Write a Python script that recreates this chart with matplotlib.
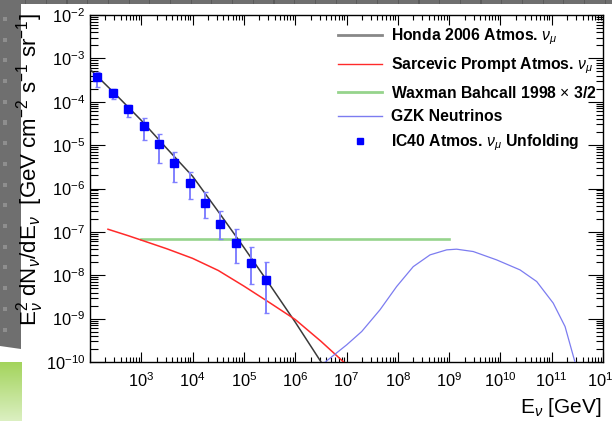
"""
IC40 atmospheric numu unfolding compared to model fluxes.
"""

import numpy as np
import matplotlib
matplotlib.use('Agg')
import matplotlib.pyplot as plt
from matplotlib.lines import Line2D
from matplotlib.patches import Polygon, Rectangle
from matplotlib.ticker import LogLocator, NullFormatter, FuncFormatter

plt.rcParams['font.family'] = ['Liberation Sans', 'DejaVu Sans']
plt.rcParams['mathtext.fontset'] = 'custom'
plt.rcParams['mathtext.rm'] = 'Liberation Sans'
plt.rcParams['mathtext.it'] = 'Liberation Sans:italic'
plt.rcParams['mathtext.bf'] = 'Liberation Sans:bold'

# IC40 unfolded spectrum (GeV, GeV cm^-2 s^-1 sr^-1)
e_data = [139, 281, 558, 1114, 2213, 4395, 8770, 17400, 34700, 69200, 137000, 274000]
flux_data = [3.67e-4, 1.62e-4, 6.8e-5, 2.7e-5, 1.07e-5, 3.9e-6, 1.37e-6, 4.7e-7,
             1.53e-7, 5.4e-8, 1.96e-8, 7.8e-9]
flux_hi = [4.87e-4, 1.94e-4, 8.4e-5, 4.17e-5, 1.78e-5, 6.86e-6, 2.45e-6, 8.5e-7,
           3.05e-7, 1.15e-7, 4.58e-8, 2.04e-8]
flux_lo = [2.23e-4, 1.14e-4, 4.4e-5, 1.32e-5, 3.95e-6, 1.40e-6, 5.66e-7, 2.05e-7,
           6.8e-8, 1.96e-8, 6.3e-9, 1.38e-9]

# Honda 2006 conventional atmospheric numu
e_honda = [1e2, 3.16e2, 1e3, 3.16e3, 1e4, 3.16e4, 1e5, 3.16e5, 1e6, 3.16e6, 3.98e6]
flux_honda = [5.62e-4, 1.48e-4, 3.72e-5, 8.32e-6, 1.91e-6, 2.95e-7, 4.37e-8, 6.17e-9,
              8.32e-10, 1.02e-10, 6.6e-11]

# Sarcevic prompt atmospheric numu
e_prompt = [224, 562, 1e3, 3.16e3, 1e4, 3.16e4, 1e5, 3.16e5, 1e6, 3.16e6, 1e7]
flux_prompt = [1.15e-7, 8.13e-8, 6.46e-8, 4.07e-8, 2.45e-8, 1.29e-8, 5.62e-9, 2.34e-9,
               9.55e-10, 3.02e-10, 8.7e-11]

# Waxman Bahcall 1998 bound x 3/2
e_wb = [1e3, 1e9]
flux_wb = [6.7e-8, 6.7e-8]

# GZK neutrinos
e_gzk = [3.16e6, 1.01e7, 1.98e7, 4.5e7, 9.5e7, 2.0e8, 4.25e8, 8.97e8, 1.4e9, 2.96e9,
         8.45e9, 2.41e10, 5.1e10, 1.07e11, 1.82e11, 2.84e11, 3.02e11]
flux_gzk = [8.3e-11, 2.49e-10, 5.05e-10, 1.6e-9, 5.5e-9, 1.58e-8, 2.95e-8, 3.85e-8,
            3.99e-8, 3.52e-8, 2.26e-8, 1.33e-8, 7.16e-9, 2.28e-9, 6.58e-10, 1.0e-10, 7.8e-11]

W, H = 612, 421
fig = plt.figure(figsize=(W / 100, H / 100), dpi=100, facecolor='white')

# slide background bits
gray = '#6f6f6f'
fig.add_artist(Rectangle((0, 1 - 4 / H), 1, 4 / H, transform=fig.transFigure,
                         facecolor=gray, edgecolor='none', zorder=0))
fig.add_artist(Polygon([(0, 1), (21 / W, 1), (21 / W, 1 - 349 / H), (0, 1 - 346 / H)],
                       closed=True, transform=fig.transFigure,
                       facecolor=gray, edgecolor='none', zorder=0))
for yy in np.arange(17, 340, 20.7):
    fig.add_artist(Rectangle((3 / W, 1 - (yy + 4) / H), 4 / W, 4 / H, transform=fig.transFigure,
                             facecolor='#8e8e8e', edgecolor='none', zorder=0))
for xx in np.arange(25, W, 20.7):
    fig.add_artist(Rectangle((xx / W, 1 - 4 / H), 1.2 / W, 4 / H, transform=fig.transFigure,
                             facecolor='#5a5a5a', edgecolor='none', zorder=0))
gax = fig.add_axes([0, 0, 21 / W, 59 / H])
grad = np.linspace(0, 1, 100)[:, None]
top_c = np.array([0.64, 0.83, 0.36])
bot_c = np.array([0.86, 0.94, 0.76])
gax.imshow(top_c + (bot_c - top_c) * grad[:, :, None], aspect='auto', extent=[0, 1, 0, 1])
gax.axis('off')

ax = fig.add_axes([90 / W, 59 / H, 513 / W, 347 / H])

ax.plot(e_honda, flux_honda, color='#3a3a3a', lw=1.1, zorder=3)
ax.plot(e_prompt, flux_prompt, color='#ff2a2a', lw=1.1, zorder=3)
ax.plot(e_wb, flux_wb, color='#96d48c', lw=1.9, zorder=2)
ax.plot(e_gzk, flux_gzk, color='#7c7cf0', lw=0.9, zorder=3)

yerr = [np.array(flux_data) - np.array(flux_lo), np.array(flux_hi) - np.array(flux_data)]
ax.errorbar(e_data, flux_data, yerr=yerr, fmt='s', color='#0000ff', ms=5.5,
            ecolor='#8080ff', elinewidth=1.4, capsize=1.8, capthick=1.0, zorder=4)

ax.set_xscale('log')
ax.set_yscale('log')
ax.set_xlim(1e2, 1e12)
ax.set_ylim(1e-10, 1e-2)

ax.xaxis.set_major_locator(LogLocator(base=10, numticks=30))
ax.xaxis.set_minor_locator(LogLocator(base=10, subs=np.arange(2, 10), numticks=300))
ax.yaxis.set_major_locator(LogLocator(base=10, numticks=30))
ax.yaxis.set_minor_locator(LogLocator(base=10, subs=np.arange(2, 10), numticks=300))
ax.xaxis.set_minor_formatter(NullFormatter())
ax.yaxis.set_minor_formatter(NullFormatter())
ax.xaxis.set_major_formatter(FuncFormatter(
    lambda v, pos: '' if v < 500 else r'$\mathdefault{10^{%d}}$' % round(np.log10(v))))

ax.tick_params(which='both', direction='in', top=True, right=True, width=0.8,
               labelsize=11.8, color='black')
ax.tick_params(axis='x', which='major', length=7.2, pad=7)
ax.tick_params(axis='x', which='minor', length=3.6)
ax.tick_params(axis='y', which='major', length=10.8, pad=3.5)
ax.tick_params(axis='y', which='minor', length=5.4)
for sp in ax.spines.values():
    sp.set_linewidth(1.0)

ax.set_ylabel(r'E$_{\nu}^{2}$ dN$_{\nu}$/dE$_{\nu}$  [GeV cm$^{-2}$ s$^{-1}$ sr$^{-1}$]',
              fontsize=16, loc='top')
ax.yaxis.set_label_coords(-0.086, 1.005)
ax.set_xlabel(r'E$_{\nu}$ [GeV]', fontsize=15, loc='right')
ax.xaxis.set_label_coords(0.997, -0.098)

handles = [Line2D([], [], color='#888888', lw=2.0),
           Line2D([], [], color='#ff2a2a', lw=1.0),
           Line2D([], [], color='#96d48c', lw=2.0),
           Line2D([], [], color='#7c7cf0', lw=1.0),
           Line2D([], [], ls='none', marker='s', color='#0000ff', ms=5)]
labels = [r'Honda 2006 Atmos. $\nu_{\mu}$',
          r'Sarcevic Prompt Atmos. $\nu_{\mu}$',
          r'Waxman Bahcall 1998 $\times$ 3/2',
          'GZK Neutrinos',
          r'IC40 Atmos. $\nu_{\mu}$ Unfolding']
ax.legend(handles, labels, loc='upper left', bbox_to_anchor=(0.4834, 0.968),
          frameon=False, borderpad=0, borderaxespad=0, handlelength=2.8,
          handletextpad=0.6, labelspacing=0.55,
          prop={'weight': 'bold', 'size': 11.3})

fig.savefig('out.png', dpi=100, facecolor=fig.get_facecolor())
